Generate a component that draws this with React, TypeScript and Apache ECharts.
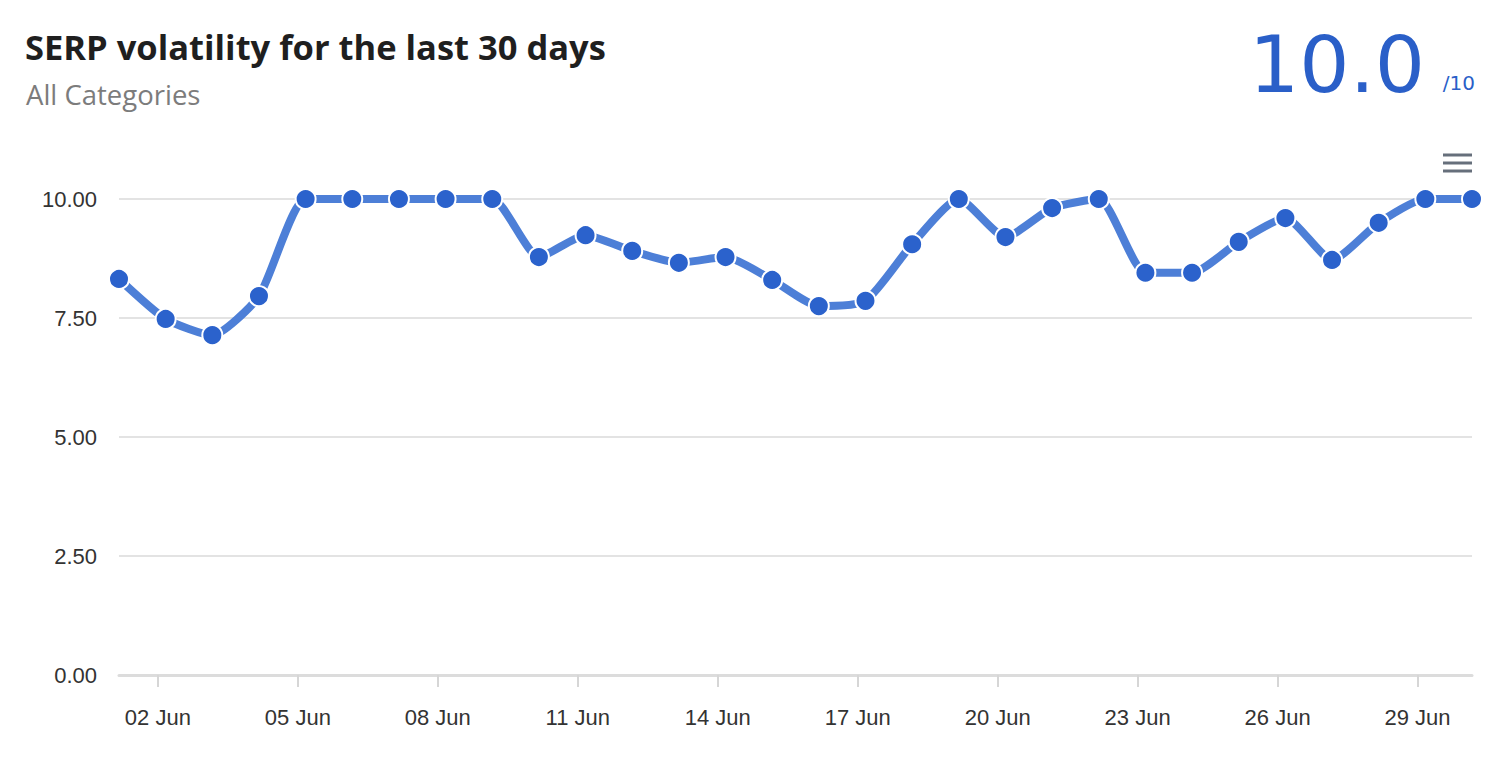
import React, { useEffect, useRef } from "react";
import * as echarts from "echarts";

const days = [1,2,3,4,5,6,7,8,9,10,11,12,13,14,15,16,17,18,19,20,21,22,23,24,25,26,27,28,29,30];
const volatility = [8.32,7.48,7.14,7.96,10,10,10,10,10,8.78,9.24,8.91,8.66,8.78,8.3,7.75,7.86,9.05,10,9.2,9.81,10,8.45,8.45,9.1,9.6,8.72,9.5,10,10];
const tickDays = [2,5,8,11,14,17,20,23,26,29];
const monthLabel = "Jun";
const hourOffset = 4 / 24;
const title = "SERP volatility for the last 30 days";
const subtitle = "All Categories";
const scoreText = "10.0";
const scoreMax = "/10";

export default function App() {
  const ref = useRef<HTMLDivElement>(null);
  useEffect(() => {
    if (!ref.current) return;
    const chart = echarts.init(ref.current, null, { renderer: "svg" });
    const data = days.map((d, i) => [d + hourOffset, volatility[i]]);
    const tickVals = tickDays.map((d) => d);
    chart.setOption({
      animation: false,
      backgroundColor: "#ffffff",
      grid: { left: 119, right: 26, top: 199, bottom: 83, containLabel: false },
      xAxis: {
        type: "value",
        min: days[0] + hourOffset,
        max: days[days.length - 1] + hourOffset,
        axisLine: { show: true, lineStyle: { color: "#dcdcdc", width: 3 } },
        axisTick: { show: true, length: 12, lineStyle: { color: "#d6d6d6", width: 2 }, customValues: tickVals },
        axisLabel: {
          customValues: tickVals,
          margin: 31,
          color: "#333333",
          fontSize: 22,
          fontFamily: "Liberation Sans, Arial, sans-serif",
          formatter: (v: number) => `${String(Math.round(v)).padStart(2, "0")} ${monthLabel}`,
        },
        splitLine: { show: false },
      },
      yAxis: {
        type: "value",
        min: 0,
        max: 10,
        interval: 2.5,
        axisLine: { show: false },
        axisTick: { show: false },
        axisLabel: {
          margin: 22,
          color: "#333333",
          fontSize: 22,
          fontFamily: "Liberation Sans, Arial, sans-serif",
          formatter: (v: number) => v.toFixed(2),
        },
        splitLine: { lineStyle: { color: "#e3e3e3", width: 2 } },
      },
      series: [
        {
          type: "line",
          data,
          smooth: 0.2,
          clip: false,
          symbol: "circle",
          symbolSize: 20,
          lineStyle: { color: "#4d7fd7", width: 8 },
          itemStyle: { color: "#2b62cc", borderColor: "#ffffff", borderWidth: 2 },
          z: 3,
        },
      ],
      graphic: [
        {
          type: "text",
          left: 25,
          top: 29,
          style: { text: title, fontSize: 34.5, fontWeight: "bold", fontFamily: "Open Sans, sans-serif", fill: "#1f1f1f" },
        },
        {
          type: "text",
          left: 26,
          top: 80,
          style: { text: subtitle, fontSize: 27.5, fontFamily: "Open Sans, sans-serif", fill: "#7c7c7c" },
        },
        {
          type: "text",
          right: 73,
          top: 25,
          style: { text: scoreText, fontSize: 79, fontFamily: "DejaVu Sans, sans-serif", fill: "#2a5fc8" },
        },
        {
          type: "text",
          right: 23,
          top: 73,
          style: { text: scoreMax, fontSize: 20, fontFamily: "DejaVu Sans, sans-serif", fill: "#2a5fc8" },
        },
        { type: "line", shape: { x1: 1443, y1: 155, x2: 1472, y2: 155 }, style: { stroke: "#666f7b", lineWidth: 3 } },
        { type: "line", shape: { x1: 1443, y1: 163, x2: 1472, y2: 163 }, style: { stroke: "#666f7b", lineWidth: 3 } },
        { type: "line", shape: { x1: 1443, y1: 171, x2: 1472, y2: 171 }, style: { stroke: "#666f7b", lineWidth: 3 } },
      ],
    });
    return () => chart.dispose();
  }, []);
  return <div ref={ref} style={{ position: "fixed", left: 0, top: 0, width: 1498, height: 758 }} />;
}
